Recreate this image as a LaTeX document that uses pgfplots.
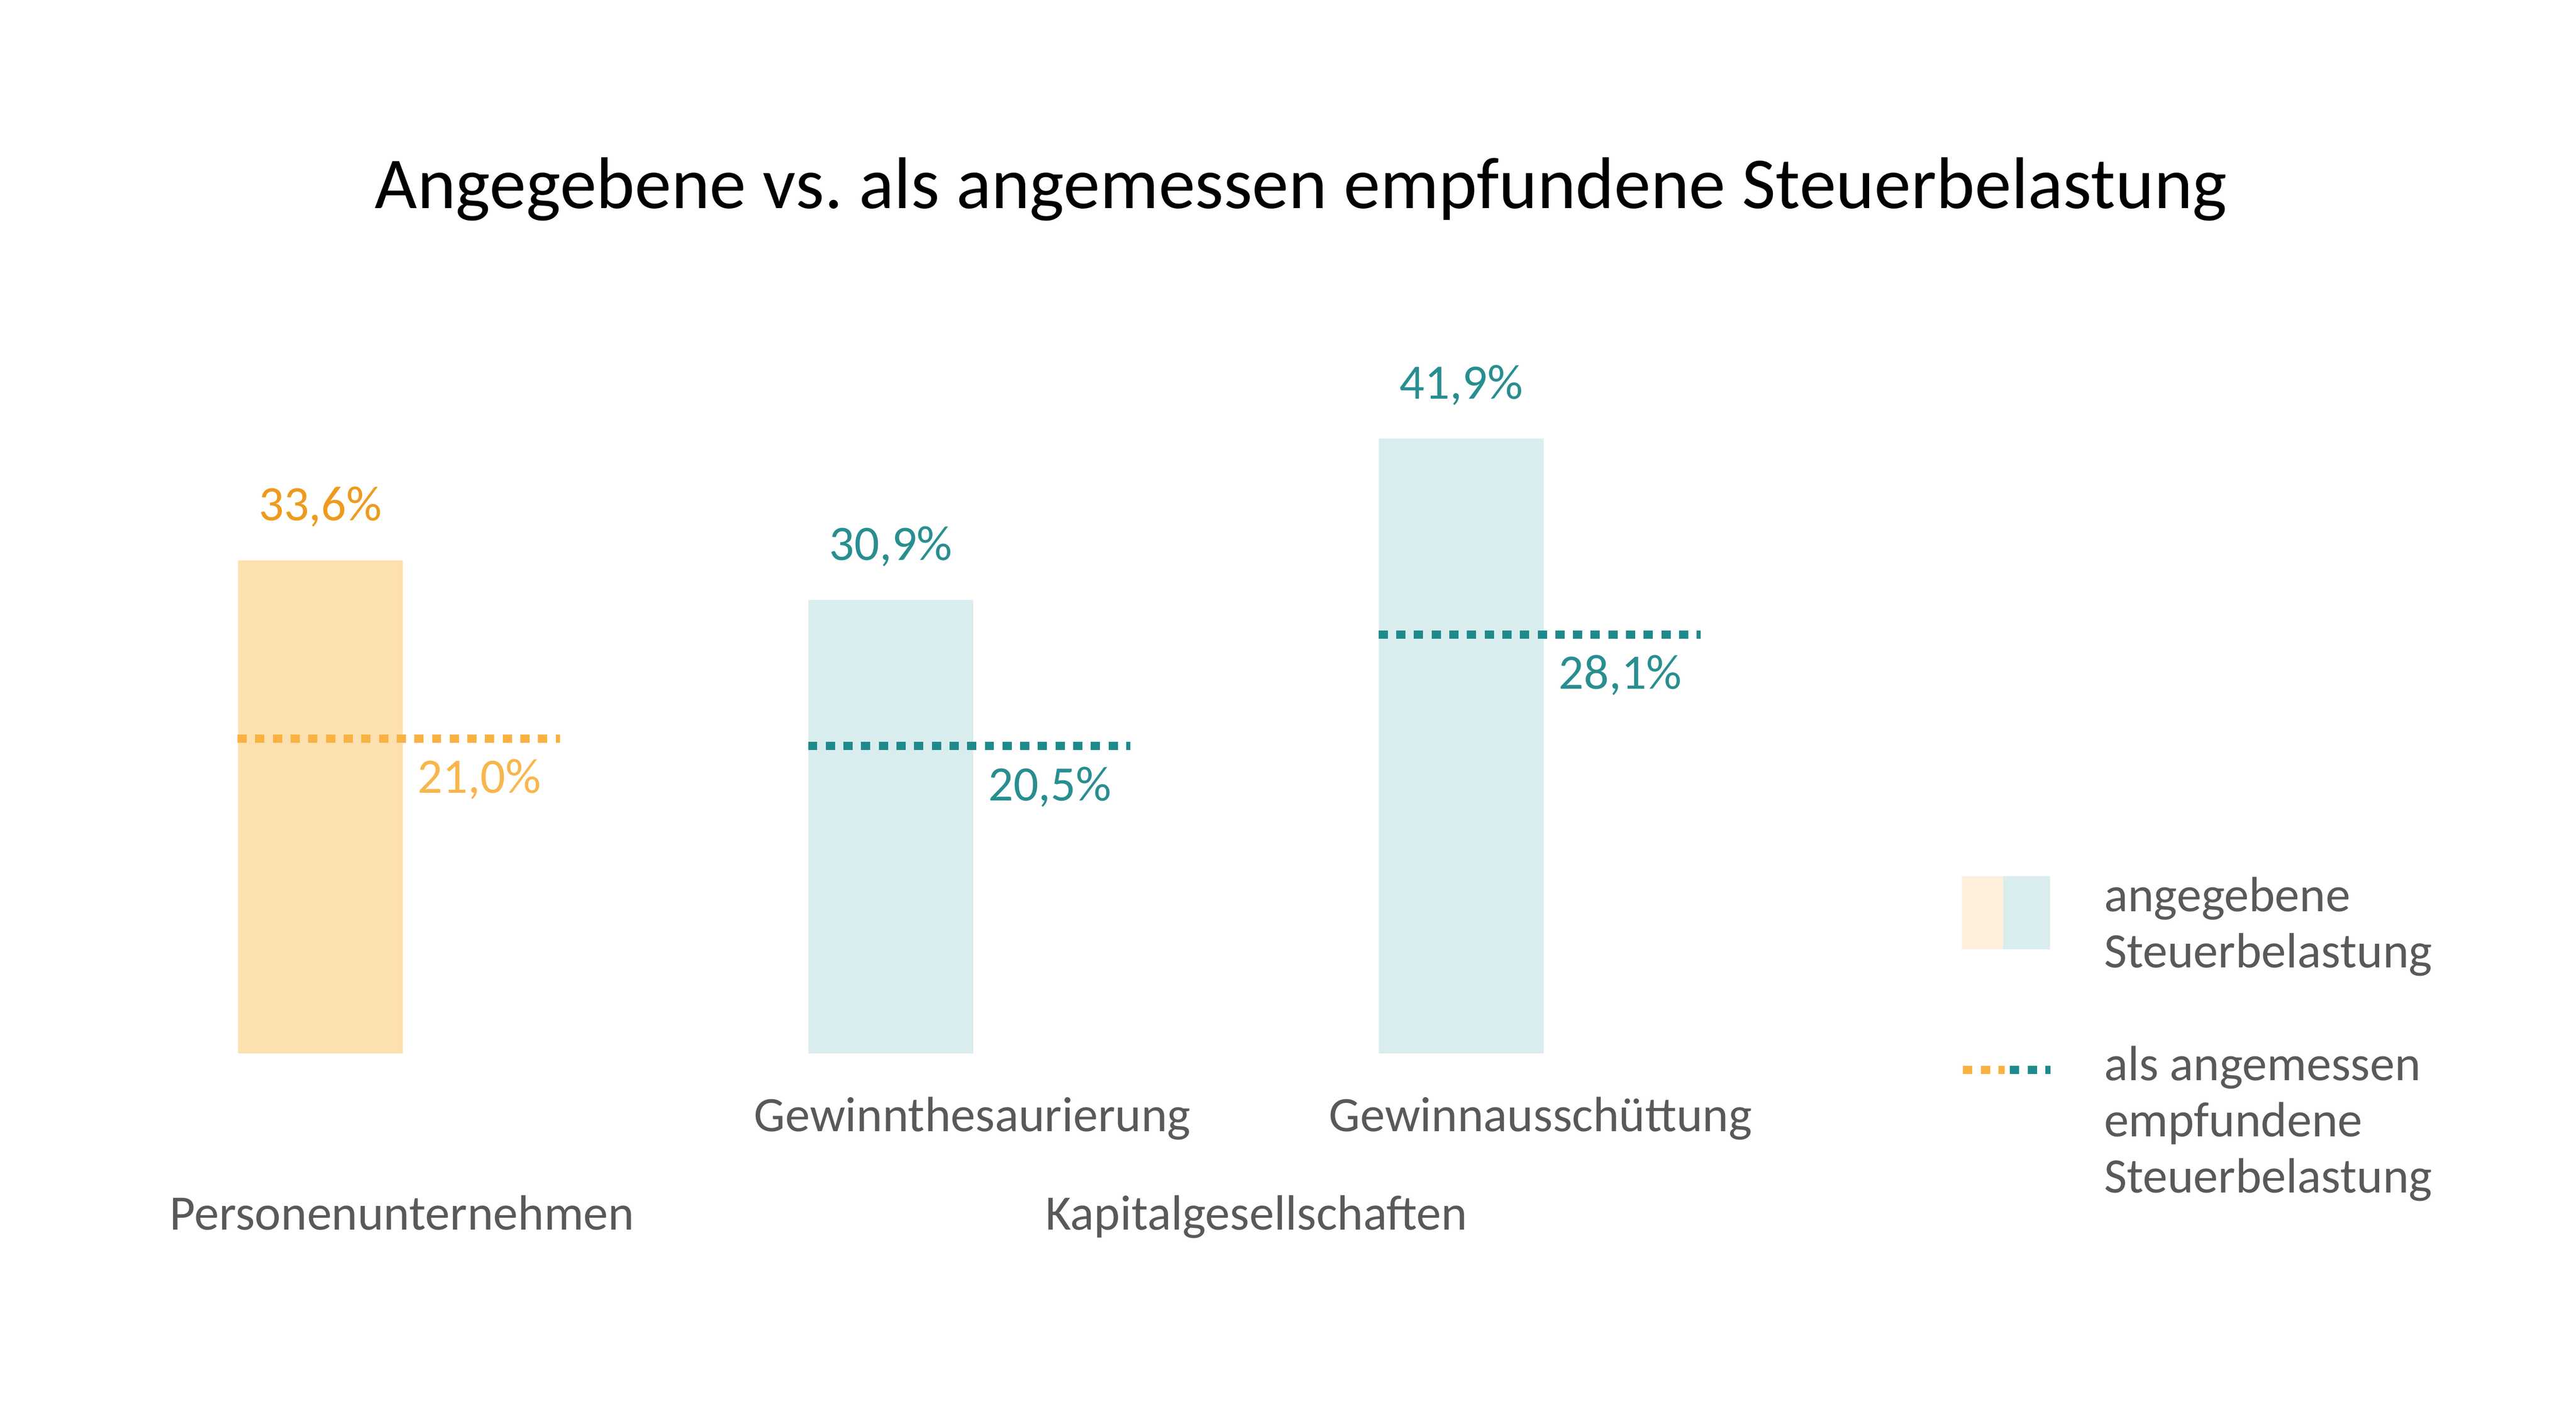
\documentclass[border=0pt]{standalone}
\usepackage{pgfplots}
\pgfplotsset{compat=1.18}
\usepackage{fontspec}
\setmainfont{Carlito}

\definecolor{barorange}{HTML}{FDE0B0}
\definecolor{barteal}{HTML}{DAEDEE}
\definecolor{lineorange}{HTML}{F9B242}
\definecolor{lineteal}{HTML}{1F8A8C}
\definecolor{txtorange}{HTML}{EE9A1E}
\definecolor{txtorangelight}{HTML}{F8B64C}
\definecolor{txtteal}{HTML}{288E90}
\definecolor{legorange}{HTML}{FEF0DC}
\definecolor{txtgray}{HTML}{595959}

\tikzset{
  dotline/.style={line width=1.47pt, dash pattern=on 1.68pt off 1.53pt, line cap=butt},
  vallabel/.style={font=\fontsize{9pt}{10.2pt}\selectfont, anchor=base, inner sep=0pt},
  catlabel/.style={font=\fontsize{9pt}{10.2pt}\selectfont, anchor=base, inner sep=0pt, text=txtgray},
}

\begin{document}
\begin{tikzpicture}
\begin{axis}[
  width=467.9pt, height=256.8pt, scale only axis,
  xmin=-0.5615, xmax=3.954, ymin=-24.53, ymax=71.78,
  hide axis, clip=false,
  legend style={
    at={(axis cs:2.872,12.08)}, anchor=north west,
    draw=none, fill=none, inner sep=0pt, outer sep=0pt,
    row sep=12.8pt, column sep=9pt,
    font=\fontsize{9pt}{10.2pt}\selectfont, text=txtgray,
    nodes={inner sep=0pt, outer sep=0pt},
    cells={align=left},
  },
  legend cell align=left,
]
\path (rel axis cs:0,0) rectangle (rel axis cs:1,1);

% legend
\addlegendimage{legend image code/.code={
  \fill[legorange] (0pt,-4.0pt) rectangle (7.5pt,8.9pt);
  \fill[barteal] (7.5pt,-4.0pt) rectangle (15.6pt,8.9pt);}}
\addlegendentry{angegebene\\Steuerbelastung}
\addlegendimage{legend image code/.code={
  \draw[lineorange, line width=1.5pt, dash pattern=on 1.7pt off 1.55pt] (0pt,9.75pt) -- (7.6pt,9.75pt);
  \draw[lineteal, line width=1.5pt, dash pattern=on 1.7pt off 1.55pt] (8.5pt,9.75pt) -- (15.9pt,9.75pt);}}
\addlegendentry{als angemessen\\empfundene\\Steuerbelastung}

% angegebene Steuerbelastung (bars)
\addplot[ybar, bar width=0.289, bar shift=0pt, fill=barorange, draw=none, forget plot,
  nodes near coords={\pgfmathprintnumber[fixed,fixed zerofill,precision=1,use comma,assume math mode=true]{\pgfplotspointmeta}\%},
  every node near coord/.append style={vallabel, text=txtorange, yshift=7.2pt}]
  coordinates {(0,33.6)};
\addplot[ybar, bar width=0.289, bar shift=0pt, fill=barteal, draw=none, forget plot,
  nodes near coords={\pgfmathprintnumber[fixed,fixed zerofill,precision=1,use comma,assume math mode=true]{\pgfplotspointmeta}\%},
  every node near coord/.append style={vallabel, text=txtteal, yshift=7.2pt}]
  coordinates {(1,30.9) (2,41.9)};

% als angemessen empfundene Steuerbelastung (dotted lines)
\addplot[lineorange, dotline, yshift=1.2pt, forget plot] coordinates {(-0.145,21.0) (0.42,21.0)}
  node[pos=0.75, vallabel, text=txtorangelight, yshift=-9.9pt] {21,0\%};
\addplot[lineteal, dotline, yshift=1.2pt, forget plot] coordinates {(0.855,20.5) (1.42,20.5)}
  node[pos=0.75, vallabel, text=txtteal, yshift=-9.9pt] {20,5\%};
\addplot[lineteal, dotline, yshift=1.2pt, forget plot] coordinates {(1.855,28.1) (2.42,28.1)}
  node[pos=0.75, vallabel, text=txtteal, yshift=-9.9pt] {28,1\%};

% title and category labels
\node[anchor=base, inner sep=0pt, font=\fontsize{13.3pt}{15pt}\selectfont] at (axis cs:1.719,57.58)
  {Angegebene vs.\ als angemessen empfundene Steuerbelastung};
\node[catlabel] at (axis cs:1.143,-5.3) {Gewinnthesaurierung};
\node[catlabel] at (axis cs:2.139,-5.3) {Gewinnausschüttung};
\node[catlabel] at (axis cs:0.1433,-12.0) {Personenunternehmen};
\node[catlabel] at (axis cs:1.641,-12.0) {Kapitalgesellschaften};
\end{axis}
\end{tikzpicture}
\end{document}
